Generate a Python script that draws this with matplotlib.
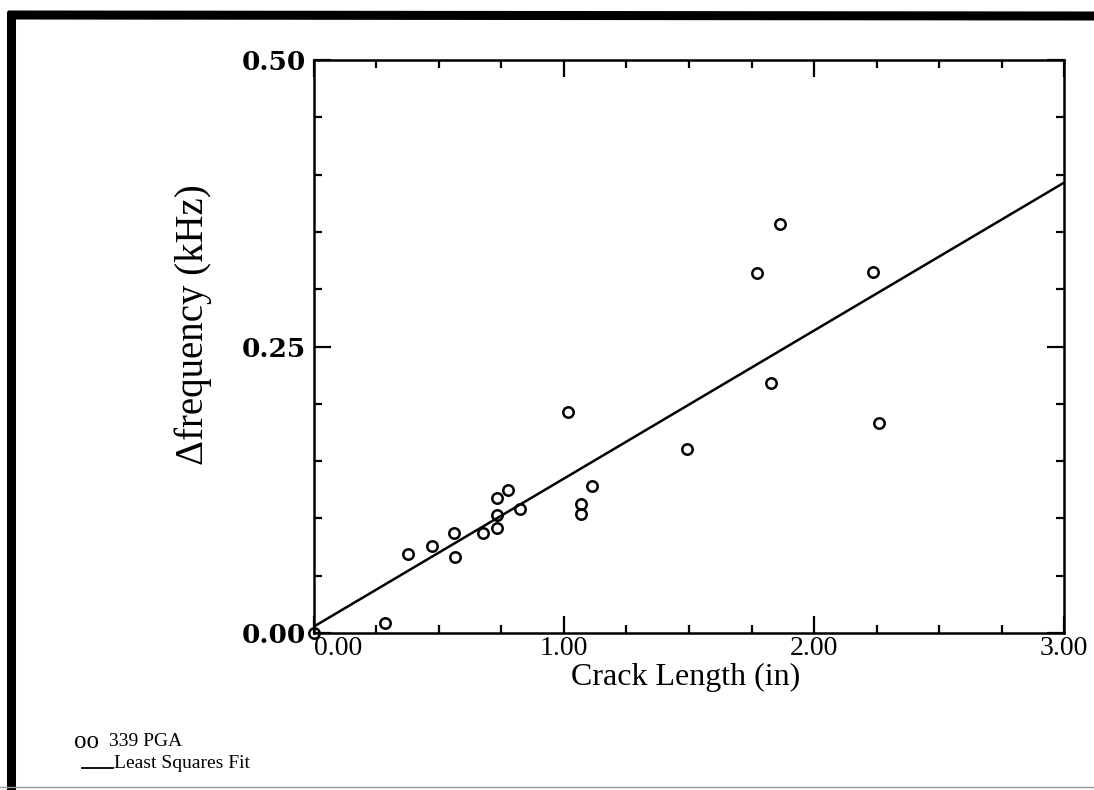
from matplotlib import pyplot as plt
from matplotlib.lines import Line2D
from matplotlib.ticker import MultipleLocator

# 339 PGA points
crack_len = [0.0, 0.284, 0.375, 0.473, 0.561, 0.565, 0.677, 0.731, 0.731, 0.731,
             0.777, 0.824, 1.017, 1.067, 1.067, 1.113, 1.492, 1.771, 1.864, 1.827,
             2.235, 2.261]
dfreq = [0.0, 0.009, 0.069, 0.076, 0.087, 0.066, 0.087, 0.092, 0.103, 0.118,
         0.125, 0.108, 0.193, 0.113, 0.104, 0.128, 0.161, 0.314, 0.357, 0.218,
         0.315, 0.183]

# least squares line as drawn (ends at the axes edges)
fit_x = [0.0, 3.0]
fit_y = [0.0057, 0.393]

x_ticks = [0.0, 1.0, 2.0, 3.0]
x_labels = ['0.00', '1.00', '2.00', '3.00']
y_ticks = [0.0, 0.25, 0.5]
y_labels = ['0.00', '0.25', '0.50']

SERIF = 'Liberation Serif'

fig = plt.figure(figsize=(10.94, 7.9), dpi=100)
ax = fig.add_axes([0.287, 0.1987, 0.6856, 0.7253])

ax.plot(fit_x, fit_y, color='black', lw=1.8, solid_capstyle='butt')
ax.plot(crack_len, dfreq, 'o', mfc='none', mec='black', ms=7.5, mew=1.8,
        clip_on=False, zorder=3)

ax.set_xlim(0, 3)
ax.set_ylim(0, 0.5)
ax.set_xticks(x_ticks, x_labels, fontfamily=SERIF, fontsize=20)
ax.set_yticks(y_ticks, y_labels, fontfamily='DejaVu Serif', fontweight='bold',
              fontsize=19)
ax.get_xticklabels()[0].set_ha('left')
ax.xaxis.set_minor_locator(MultipleLocator(0.25))
ax.yaxis.set_minor_locator(MultipleLocator(0.05))
ax.tick_params(which='both', direction='in', top=True, right=True, width=1.6)
ax.tick_params(which='major', length=12)
ax.tick_params(which='minor', length=6)
ax.tick_params(axis='x', pad=2)
ax.tick_params(axis='y', pad=6)
for s in ax.spines.values():
    s.set_linewidth(1.8)

ax.set_xlabel('Crack Length (in)', fontfamily=SERIF, fontsize=23)
ax.xaxis.set_label_coords(0.495, -0.052)
ax.set_ylabel('\u0394frequency (kHz)', fontfamily=SERIF, fontsize=28)
ax.yaxis.set_label_coords(-0.136, 0.538)

# legend block under the plot
fig.text(74 / 1094, 1 - 742 / 790, 'oo', fontfamily=SERIF, fontsize=18,
         va='center', ha='left')
fig.text(109 / 1094, 1 - 746 / 790, '339 PGA', fontfamily=SERIF, fontsize=14,
         va='baseline', ha='left')
fig.add_artist(Line2D([82 / 1094, 113 / 1094], [1 - 768 / 790, 1 - 768 / 790],
                      color='black', lw=1.3))
fig.text(114 / 1094, 1 - 768 / 790, 'Least Squares Fit', fontfamily=SERIF,
         fontsize=14, va='baseline', ha='left')

# scanned page frame: heavy top and left edges, faint bottom edge
fig.add_artist(Line2D([8 / 1094, 1.0], [1 - 15 / 790, 1 - 16 / 790],
                      color='black', lw=6.5, solid_capstyle='butt'))
fig.add_artist(Line2D([11 / 1094, 11 / 1094], [0.0, 1 - 11 / 790],
                      color='black', lw=6.5, solid_capstyle='butt'))
fig.add_artist(Line2D([0.0, 1.0], [1 - 787 / 790, 1 - 787 / 790],
                      color='#9a9a9a', lw=1.0))

fig.savefig('out.png', dpi=100)
